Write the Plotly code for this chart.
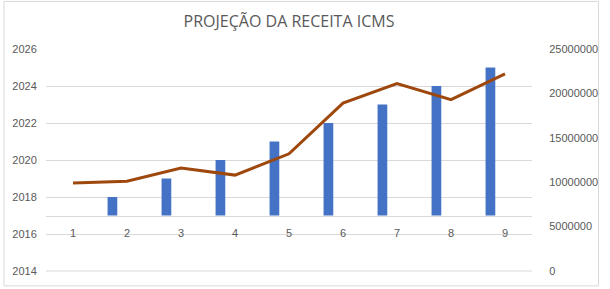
import plotly.graph_objects as go

categories = [1, 2, 3, 4, 5, 6, 7, 8, 9]
years = [2017, 2018, 2019, 2020, 2021, 2022, 2023, 2024, 2025]
receita = [9900000, 10100000, 11600000, 10800000, 13200000, 18900000, 21100000, 19300000, 22200000]
base_year = 2017
left_ticks = [2014, 2016, 2018, 2020, 2022, 2024, 2026]
right_ticks = [0, 5000000, 10000000, 15000000, 20000000, 25000000]

W, H = 610, 289
ML, MR, MT, MB = 44, 69, 49, 16

fig = go.Figure()
fig.add_trace(go.Bar(
    x=categories, y=[y - base_year for y in years], base=base_year,
    marker=dict(color="#4472C4", line=dict(width=0)),
    offset=-0.36, width=0.18, yaxis="y", showlegend=False,
))
fig.add_trace(go.Scatter(
    x=categories, y=receita, mode="lines",
    line=dict(color="#9E480E", width=3), yaxis="y2", showlegend=False,
))

tick_font = dict(family="Liberation Sans, Arial, sans-serif", size=11, color="#595959")
ymin, ymax = left_ticks[0], left_ticks[-1]
fig.update_layout(
    width=W, height=H,
    margin=dict(l=ML, r=MR, t=MT, b=MB, pad=0),
    paper_bgcolor="white", plot_bgcolor="white",
    title=dict(text="PROJEÇÃO DA RECEITA ICMS", x=0.5, xanchor="center", xref="paper",
               y=1 - 21 / H, yanchor="middle",
               font=dict(family="Open Sans, sans-serif", size=16, color="#595959")),
    xaxis=dict(range=[0.5, 9.5], tickvals=categories, ticktext=[str(c) for c in categories],
               anchor="free", position=(base_year - ymin) / (ymax - ymin),
               showline=True, linecolor="#d9d9d9", linewidth=1, showgrid=False, zeroline=False,
               ticks="outside", ticklen=7, tickcolor="rgba(0,0,0,0)", tickfont=tick_font),
    yaxis=dict(range=[ymin, ymax], tickvals=left_ticks, showgrid=True, gridcolor="#d9d9d9",
               gridwidth=1, zeroline=False, tickfont=tick_font, ticks="outside",
               ticklen=6, tickcolor="rgba(0,0,0,0)", domain=[0, 1], showline=False),
    yaxis2=dict(range=[right_ticks[0], right_ticks[-1]], tickvals=right_ticks,
                tickformat="d", overlaying="y", side="right", showgrid=False, zeroline=False,
                tickfont=tick_font, ticks="outside", ticklen=14, tickcolor="rgba(0,0,0,0)"),
    shapes=[
        dict(type="line", xref="paper", yref="paper", x0=0, x1=1, y0=0, y1=0,
             line=dict(color="#d9d9d9", width=1)),
        dict(type="rect", xref="paper", yref="paper",
             x0=-(ML - 1) / (W - ML - MR), x1=1 + (MR - 1) / (W - ML - MR),
             y0=-(MB - 1) / (H - MT - MB), y1=1 + (MT - 1) / (H - MT - MB),
             line=dict(color="#d9d9d9", width=1), fillcolor="rgba(0,0,0,0)"),
    ],
)

fig.write_html("out.html")
